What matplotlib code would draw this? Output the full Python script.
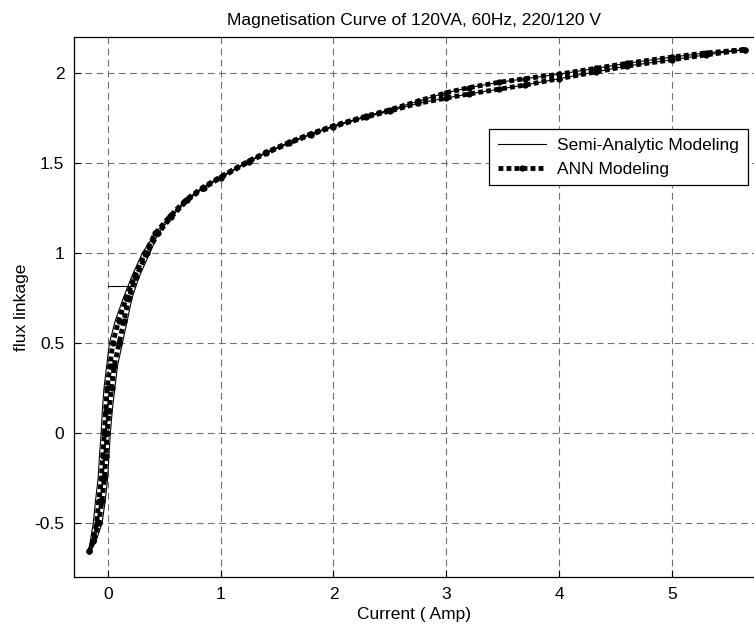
import matplotlib
matplotlib.use('Agg')
import matplotlib.pyplot as plt

plt.rcParams['font.family'] = ['Liberation Sans', 'DejaVu Sans']
plt.rcParams['axes.unicode_minus'] = False

# --- data (current in A, flux linkage) ---
# upper part of the loop (flux > 1), same for both models
# descending branch, from the positive peak down to flux 1.11
top_fall_current = [5.645, 5.30, 5.00, 4.60, 4.33, 4.00, 3.70, 3.47, 3.20, 3.00, 2.75, 2.50,
                    2.29, 2.00, 1.80, 1.61, 1.40, 1.25, 1.00, 0.84, 0.695, 0.55, 0.42]
top_fall_flux = [2.131, 2.113, 2.090, 2.055, 2.028, 1.995, 1.970, 1.950, 1.920, 1.892, 1.845, 1.797,
                 1.762, 1.708, 1.664, 1.617, 1.560, 1.513, 1.425, 1.365, 1.298, 1.205, 1.110]
# ascending branch, from flux 1.11 up to the positive peak
top_rise_current = [0.445, 0.560, 0.705, 0.850, 1.000, 1.250, 1.400, 1.610, 1.800, 2.000, 2.290,
                    2.500, 2.750, 3.000, 3.200, 3.470, 3.700, 4.000, 4.330, 4.600, 5.000, 5.300, 5.645]
top_rise_flux = [1.110, 1.200, 1.295, 1.362, 1.420, 1.508, 1.555, 1.612, 1.659, 1.703, 1.757,
                 1.790, 1.833, 1.862, 1.885, 1.912, 1.935, 1.970, 2.008, 2.040, 2.075, 2.102, 2.131]

# lower part of the loop (flux <= 1), flux levels shared by both branches
low_flux = [1.0, 0.87, 0.75, 0.625, 0.5, 0.375, 0.25, 0.125, 0.0, -0.125, -0.25, -0.375,
            -0.5, -0.6, -0.657]
semi_low_fall = [0.305, 0.212, 0.137, 0.066, 0.014, -0.010, -0.034, -0.049, -0.059, -0.074,
                 -0.086, -0.109, -0.129, -0.155, -0.165]
semi_low_rise = [0.372, 0.278, 0.214, 0.172, 0.129, 0.086, 0.062, 0.039, 0.022, 0.010,
                 -0.002, -0.023, -0.051, -0.105, -0.165]
ann_low_fall = [0.330, 0.238, 0.164, 0.095, 0.044, 0.018, -0.006, -0.020, -0.030, -0.045,
                -0.057, -0.080, -0.100, -0.132, -0.163]
ann_low_rise = [0.345, 0.250, 0.186, 0.143, 0.100, 0.057, 0.033, 0.010, -0.006, -0.018,
                -0.030, -0.052, -0.080, -0.128, -0.163]

# initial step of the semi-analytic simulation
init_current = [0.0, 0.21]
init_flux = [0.82, 0.82]

x_ticks = [0, 1, 2, 3, 4, 5]
y_ticks = [-0.5, 0, 0.5, 1, 1.5, 2]
y_tick_labels = ['-0.5', '0', '0.5', '1', '1.5', '2']


def loop(low_fall, low_rise):
    # closed loop: peak -> fall branch -> negative tip -> rise branch -> peak
    cur = top_fall_current + low_fall + low_rise[::-1] + top_rise_current
    flx = top_fall_flux + low_flux + low_flux[::-1] + top_rise_flux
    return cur, flx


semi_i, semi_f = loop(semi_low_fall, semi_low_rise)
ann_i, ann_f = loop(ann_low_fall, ann_low_rise)

fig = plt.figure(figsize=(7.54, 6.28), dpi=100)
ax = fig.add_axes([74 / 754, 1 - 577 / 628, 681 / 754, 539.7 / 628])

ax.plot(semi_i, semi_f, '-', color='k', lw=0.8, label='Semi-Analytic Modeling', zorder=4)
ax.plot(init_current, init_flux, '-', color='k', lw=0.8, zorder=4)
ax.plot(ann_i, ann_f, color='k', lw=3.5, linestyle=(0, (1, 0.65)), marker='.',
        markersize=7, label='ANN Modeling', zorder=3)

ax.set_xlim(-0.3, 5.737)
ax.set_ylim(-0.8, 2.2)
ax.set_xticks(x_ticks)
ax.set_yticks(y_ticks)
ax.set_yticklabels(y_tick_labels)
ax.tick_params(direction='in', length=5, width=0.8, labelsize=12.5, pad=7, top=False, right=False)
ax.grid(True, color='#707070', linestyle=(0, (6, 4)), linewidth=0.8)
for s in ax.spines.values():
    s.set_linewidth(0.9)

ax.set_title('Magnetisation Curve of 120VA, 60Hz, 220/120 V', fontsize=12.5, pad=9)
ax.set_xlabel('Current ( Amp)', fontsize=12.5, labelpad=4)
ax.set_ylabel('flux linkage', fontsize=12.5, labelpad=4)

leg = ax.legend(loc='upper left', bbox_to_anchor=(489 / 754, 1 - 129 / 628),
                bbox_transform=fig.transFigure, borderaxespad=0, fontsize=12.5,
                fancybox=False, framealpha=1, edgecolor='k', numpoints=1,
                handlelength=2.77, handletextpad=0.65, borderpad=0.5, labelspacing=0.5)
leg.get_frame().set_linewidth(0.9)

fig.savefig('out.png', dpi=100)
